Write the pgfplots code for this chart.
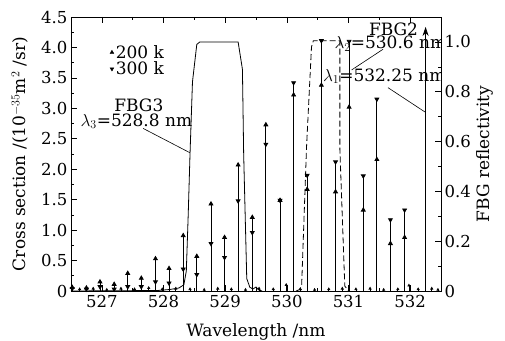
\documentclass[border=0pt]{standalone}
\usepackage{fontspec}
\setmainfont{DejaVu Serif}
\usepackage{pgfplots}
\pgfplotsset{compat=1.18}
\usetikzlibrary{arrows.meta}
\pgfplotstableread{
x      a     b
526.52 0.06  0.04
526.75 0.05  0.03
526.97 0.15  0.07
527.20 0.11  0.03
527.42 0.29  0.07
527.64 0.21  0.07
527.87 0.53  0.15
528.09 0.37  0.13
528.32 0.91  0.36
528.54 0.57  0.27
528.77 1.43  0.78
528.99 0.88  0.55
529.21 2.07  1.48
529.44 1.21  0.96
529.66 2.73  2.41
529.89 1.49  1.49
530.11 3.22  3.42
530.33 1.67  1.90
530.56 3.38  4.11
530.79 1.63  2.12
531.01 3.02  4.10
531.24 1.33  1.89
531.46 2.16  3.15
531.68 0.78  1.17
531.91 0.88  1.33
}\stems
\pgfplotstableread{
x      y
526.64 0.03
526.86 0.04
527.08 0.02
527.31 0.04
527.53 0.03
527.76 0.05
527.98 0.03
528.20 0.04
528.43 0.03
528.66 0.02
528.88 0.04
529.10 0.03
529.33 0.02
529.55 0.04
529.78 0.03
529.99 0.10
530.22 0.03
530.45 0.02
530.68 0.03
530.90 0.04
531.12 0.03
531.35 0.04
531.57 0.02
531.80 0.03
531.98 0.09
532.13 0.03
532.35 0.04
532.45 0.02
}\noise
\newcommand{\bigf}{\fontsize{17}{20}\selectfont}
\newcommand{\tickf}{\fontsize{16.5}{20}\selectfont}
\begin{document}
\begin{tikzpicture}[font=\bigf]
\begin{axis}[name=main, scale only axis, width=370pt, height=274pt,
  xmin=526.5, xmax=532.5, ymin=0, ymax=4.5,
  xtick={527,528,529,530,531,532}, minor x tick num=1,
  ytick={0,0.5,1,1.5,2,2.5,3,3.5,4,4.5},
  yticklabels={0,0.5,1.0,1.5,2.0,2.5,3.0,3.5,4.0,4.5},
  /pgf/number format/assume math mode=true,
  minor y tick num=1, ytick pos=left,
  tick label style={font=\tickf},
  xticklabel style={yshift=-1pt},
  tick align=inside, major tick length=6pt, minor tick length=3pt,
  every tick/.style={black, line width=0.6pt},
  axis line style={line width=0.8pt},
  xlabel={Wavelength /nm},
  ylabel={Cross section /(10$^{-35}$m$^2$ /sr)},
  every axis x label/.style={at={(axis description cs:0.5,-0.148)}, anchor=center, font=\bigf},
  every axis y label/.style={at={(axis description cs:-0.138,0.5)}, rotate=90, anchor=center, font=\bigf},
  legend style={draw=none, fill=none, at={(axis description cs:0.105,0.905)}, anchor=north west, row sep=-2pt, inner sep=0pt, font=\bigf},
  legend cell align=left,
]
\addplot[ycomb, black, line width=0.7pt, mark=triangle*, mark size=1.2pt, forget plot] table[x=x,y=y] {\noise};
\addplot[ycomb, black, line width=0.8pt, mark=triangle*, mark size=2.2pt, forget plot] table[x=x,y=a] {\stems};
\addplot[ycomb, black, line width=0.8pt, mark=triangle*, mark size=2.2pt, mark options={rotate=180}, forget plot] table[x=x,y=b] {\stems};
\addlegendimage{only marks, black, mark=triangle*, mark size=2.2pt}
\addlegendentry{200 k}
\addlegendimage{only marks, black, mark=triangle*, mark size=2.2pt, mark options={rotate=180}}
\addlegendentry{300 k}
\node[font=\bigf] at (axis cs:527.60,3.05) {FBG3};
\node[font=\bigf] at (axis cs:527.56,2.79) {$\lambda_3$=528.8 nm};
\draw[line width=0.6pt] (axis cs:527.67,2.67) -- (axis cs:528.43,2.27);
\node[font=\bigf] at (axis cs:531.73,4.30) {FBG2};
\node[font=\bigf] at (axis cs:531.68,4.06) {$\lambda_2$=530.6 nm};
\draw[line width=0.6pt] (axis cs:531.56,3.97) -- (axis cs:531.05,3.63);
\node[font=\bigf] at (axis cs:531.58,3.53) {$\lambda_1$=532.25 nm};
\draw[line width=0.6pt] (axis cs:531.64,3.34) -- (axis cs:532.24,2.94);
\end{axis}
\begin{axis}[scale only axis, width=370pt, height=274pt,
  xmin=526.5, xmax=532.5, ymin=0, ymax=1.1,
  xtick=\empty,
  ytick={0,0.2,0.4,0.6,0.8,1.0},
  yticklabels={0,0.2,0.4,0.6,0.8,1.0},
  /pgf/number format/assume math mode=true,
  minor y tick num=1, ytick pos=right, yticklabel pos=right,
  tick label style={font=\tickf},
  tick align=inside, major tick length=6pt, minor tick length=3pt,
  every tick/.style={black, line width=0.6pt},
  axis line style={line width=0.8pt},
  ylabel={FBG reflectivity},
  every axis y label/.style={at={(axis description cs:1.119,0.5)}, rotate=90, anchor=center, font=\bigf},
]
\addplot[black, line width=0.8pt] coordinates {
(526.5,0) (527.9,0.002) (528.1,0.006) (528.25,0.012) (528.33,0.025) (528.37,0.08)
(528.40,0.3) (528.43,0.55) (528.47,0.84) (528.54,0.99) (528.59,1.0)
(529.21,1.0) (529.28,0.89) (529.30,0.55) (529.35,0.05) (529.40,0.015)
(529.45,0.008) (529.50,0.016) (529.55,0.003) (529.6,0)};
\addplot[black, line width=0.8pt, dash pattern=on 6pt off 3pt] coordinates {
(530.15,0) (530.20,0.005) (530.24,0.02) (530.32,0.58) (530.40,0.98) (530.43,1.005)
(530.86,1.005) (530.86,0.57) (530.94,0.02) (530.97,0.01) (531.0,0)};
\addplot[black, line width=0.8pt, -{Stealth[length=9pt,width=6pt]}] coordinates {(532.25,0) (532.25,1.06)};
\end{axis}
\pgfresetboundingbox
\path (main.south west) ++(-71pt,-49pt) rectangle ++(505pt,340pt);
\end{tikzpicture}
\end{document}
